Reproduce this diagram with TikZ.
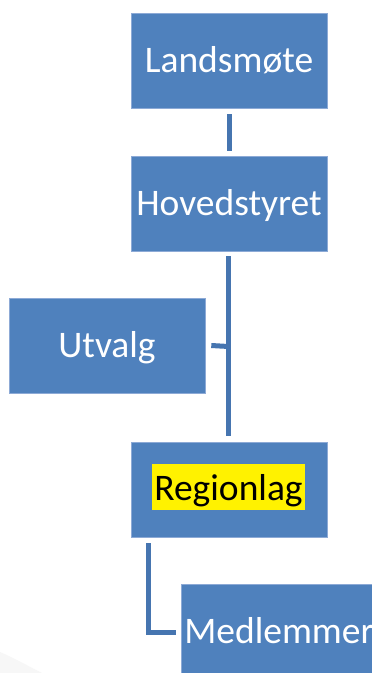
\documentclass[tikz,border=0pt]{standalone}
\usepackage{fontspec}
\setmainfont{Carlito}
\definecolor{boxblue}{HTML}{4F81BD}
\definecolor{boxedge}{HTML}{8DAAD6}
\definecolor{linkblue}{HTML}{4675B0}
\begin{document}
\begin{tikzpicture}[x=1pt,y=-1pt,
  orgbox/.style={rectangle, fill=boxblue, draw=boxedge, line width=0.6pt,
    minimum width=196pt, minimum height=95pt, inner sep=0pt,
    font=\fontsize{37.5}{42}\selectfont, text=white, text height=25pt, text depth=2pt},
  hilite/.style={rectangle, fill=yellow, inner xsep=2.5pt, inner ysep=3.5pt,
    font=\fontsize{37.5}{42}\selectfont, text=black, text height=33pt, text depth=6pt},
  link/.style={draw=linkblue, line width=5pt, line cap=butt, line join=miter}]
\useasboundingbox (0,0) rectangle (372,673);
\fill[white] (0,0) rectangle (372,673);
\fill[black!3] (0,652) .. controls (14,658) and (30,667) .. (42,673) -- (0,673) -- cycle;

\node[orgbox] (lm) at (229,60.5) {Landsmøte};
\node[orgbox] (hs) at (229,203.5) {Hovedstyret};
\node[orgbox] (ut) at (107,346) {Utvalg};
\node[orgbox] (rl) at (229,489.5) {};
\node[hilite] (rlt) at (228.5,487.2) {Regionlag};
\node[orgbox] (me) at (279,631.5) {Medlemmer};

\coordinate (junc) at (228.5,346.5);
\draw[link] ([yshift=-6pt]lm.south) -- ([yshift=5pt]hs.north);
\draw[link] ([xshift=-0.5pt,yshift=-5pt]hs.south) -- ([xshift=-0.5pt,yshift=6pt]rl.north);
\draw[link] ([xshift=6pt,yshift=0.5pt]ut.east) -- (junc);
\draw[link] ([xshift=-80.5pt,yshift=-6pt]rl.south) |- ([xshift=-5pt,yshift=-0.5pt]me.west);
\end{tikzpicture}
\end{document}
